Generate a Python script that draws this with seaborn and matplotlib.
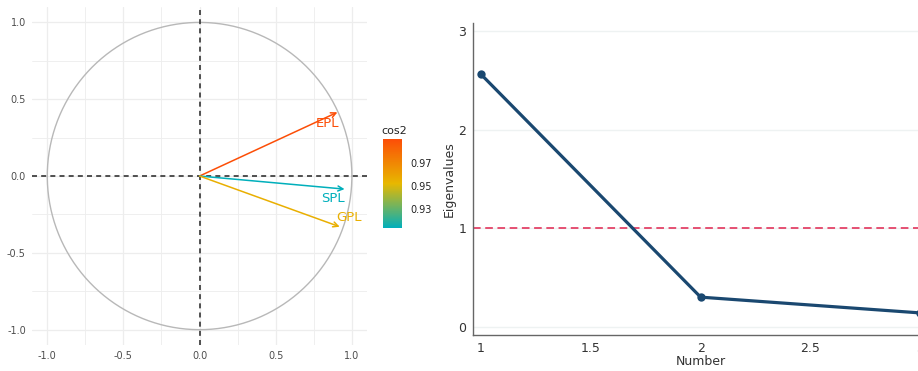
import seaborn as sns
import matplotlib.pyplot as plt
import matplotlib as mpl
import numpy as np
import pandas as pd

# variable loadings on dim 1 / dim 2
var_names = ["EPL", "SPL", "GPL"]
dim1 = [0.905, 0.952, 0.920]
dim2 = [0.415, -0.085, -0.330]
# label offsets (points) from arrow tip
lab_dx = [-7, -8.5, 6.5]
lab_dy = [-8, -7, 6.5]

# scree data
comp_num = [1, 2, 3]
eigenvalues = [2.56, 0.30, 0.14]

cos2 = np.array(dim1) ** 2 + np.array(dim2) ** 2
cmap = mpl.colors.LinearSegmentedColormap.from_list("grad", ["#00AFBB", "#E7B800", "#FC4E07"])
norm = mpl.colors.Normalize(vmin=0.9135, vmax=0.9906)

sns.set_style("white")
plt.rcParams['font.family'] = ['DejaVu Sans']

fig = plt.figure(figsize=(9.18, 3.71), dpi=100)

# ---- variable correlation circle
ax1 = fig.add_axes([0.0349, 0.070, 0.365, 0.911])
ax1.set_xlim(-1.1, 1.1)
ax1.set_ylim(-1.1, 1.1)
for v in np.arange(-1, 1.01, 0.25):
    ax1.axvline(v, color="#EDEDED", lw=0.9 if v % 0.5 == 0 else 0.6, zorder=0)
    ax1.axhline(v, color="#EDEDED", lw=0.9 if v % 0.5 == 0 else 0.6, zorder=0)
t = np.linspace(0, 2 * np.pi, 300)
ax1.plot(np.cos(t), np.sin(t), color="#B8B8B8", lw=1)
ax1.axhline(0, color="#333333", ls=(0, (3, 2.5)), lw=1.2)
ax1.axvline(0, color="#333333", ls=(0, (3, 2.5)), lw=1.2)
for n, x, y, c, dx, dy in zip(var_names, dim1, dim2, cos2, lab_dx, lab_dy):
    col = cmap(norm(c))
    ax1.annotate("", xy=(x, y), xytext=(0, 0),
                 arrowprops=dict(arrowstyle="->", color=col, lw=1.1, mutation_scale=9,
                                 shrinkA=0, shrinkB=0))
    ax1.annotate(n, xy=(x, y), xytext=(dx, dy), textcoords="offset points",
                 color=col, fontsize=9.5, ha="center", va="center")
ax1.set_xticks([-1, -0.5, 0, 0.5, 1])
ax1.set_yticks([-1, -0.5, 0, 0.5, 1])
ax1.set_xticklabels(["-1.0", "-0.5", "0.0", "0.5", "1.0"])
ax1.set_yticklabels(["-1.0", "-0.5", "0.0", "0.5", "1.0"])
ax1.tick_params(labelsize=7, colors="#4D4D4D", length=2.5, width=0.8, pad=2)
for s in ax1.spines.values():
    s.set_visible(False)

# ---- colour bar
cax = fig.add_axes([0.4172, 0.385, 0.0207, 0.24])
cb = fig.colorbar(mpl.cm.ScalarMappable(norm=norm, cmap=cmap), cax=cax)
cb.set_ticks([0.93, 0.95, 0.97])
cb.outline.set_visible(False)
cax.tick_params(labelsize=7, colors="white", length=3, width=0.6, direction="in", pad=6)
for lbl in cax.get_yticklabels():
    lbl.set_color("#222222")
cax.set_title("cos2", fontsize=8, color="#222222", loc="left", pad=4, x=-0.1)

# ---- scree plot
ax2 = fig.add_axes([0.5153, 0.097, 0.4956, 0.841])
ax2.set_axisbelow(True)
ax2.grid(axis="y", color="#EEF2F2", lw=1)
df = pd.DataFrame({"Number": comp_num, "Eigenvalues": eigenvalues})
sns.lineplot(data=df, x="Number", y="Eigenvalues", ax=ax2, color="#1A4870", lw=2.3,
             marker="o", markersize=6, markeredgewidth=0, clip_on=False, zorder=3)
ax2.axhline(1, color="#E0234E", ls=(0, (5, 3)), lw=1.1)
ax2.set_xlim(0.964, 3.035)
ax2.set_ylim(-0.084, 3.08)
ax2.set_xticks([1, 1.5, 2, 2.5, 3])
ax2.set_xticklabels(["1", "1.5", "2", "2.5", "3"])
ax2.set_yticks([0, 1, 2, 3])
ax2.tick_params(labelsize=9, colors="#333333", length=3, width=0.8, pad=2)
ax2.set_xlabel("Number", fontsize=9, color="#333333", labelpad=0)
ax2.set_ylabel("Eigenvalues", fontsize=9, color="#333333", labelpad=2)
for s in ["top", "right"]:
    ax2.spines[s].set_visible(False)
for s in ["left", "bottom"]:
    ax2.spines[s].set_color("#666666")
    ax2.spines[s].set_linewidth(1)

fig.savefig("out.png", dpi=100)
